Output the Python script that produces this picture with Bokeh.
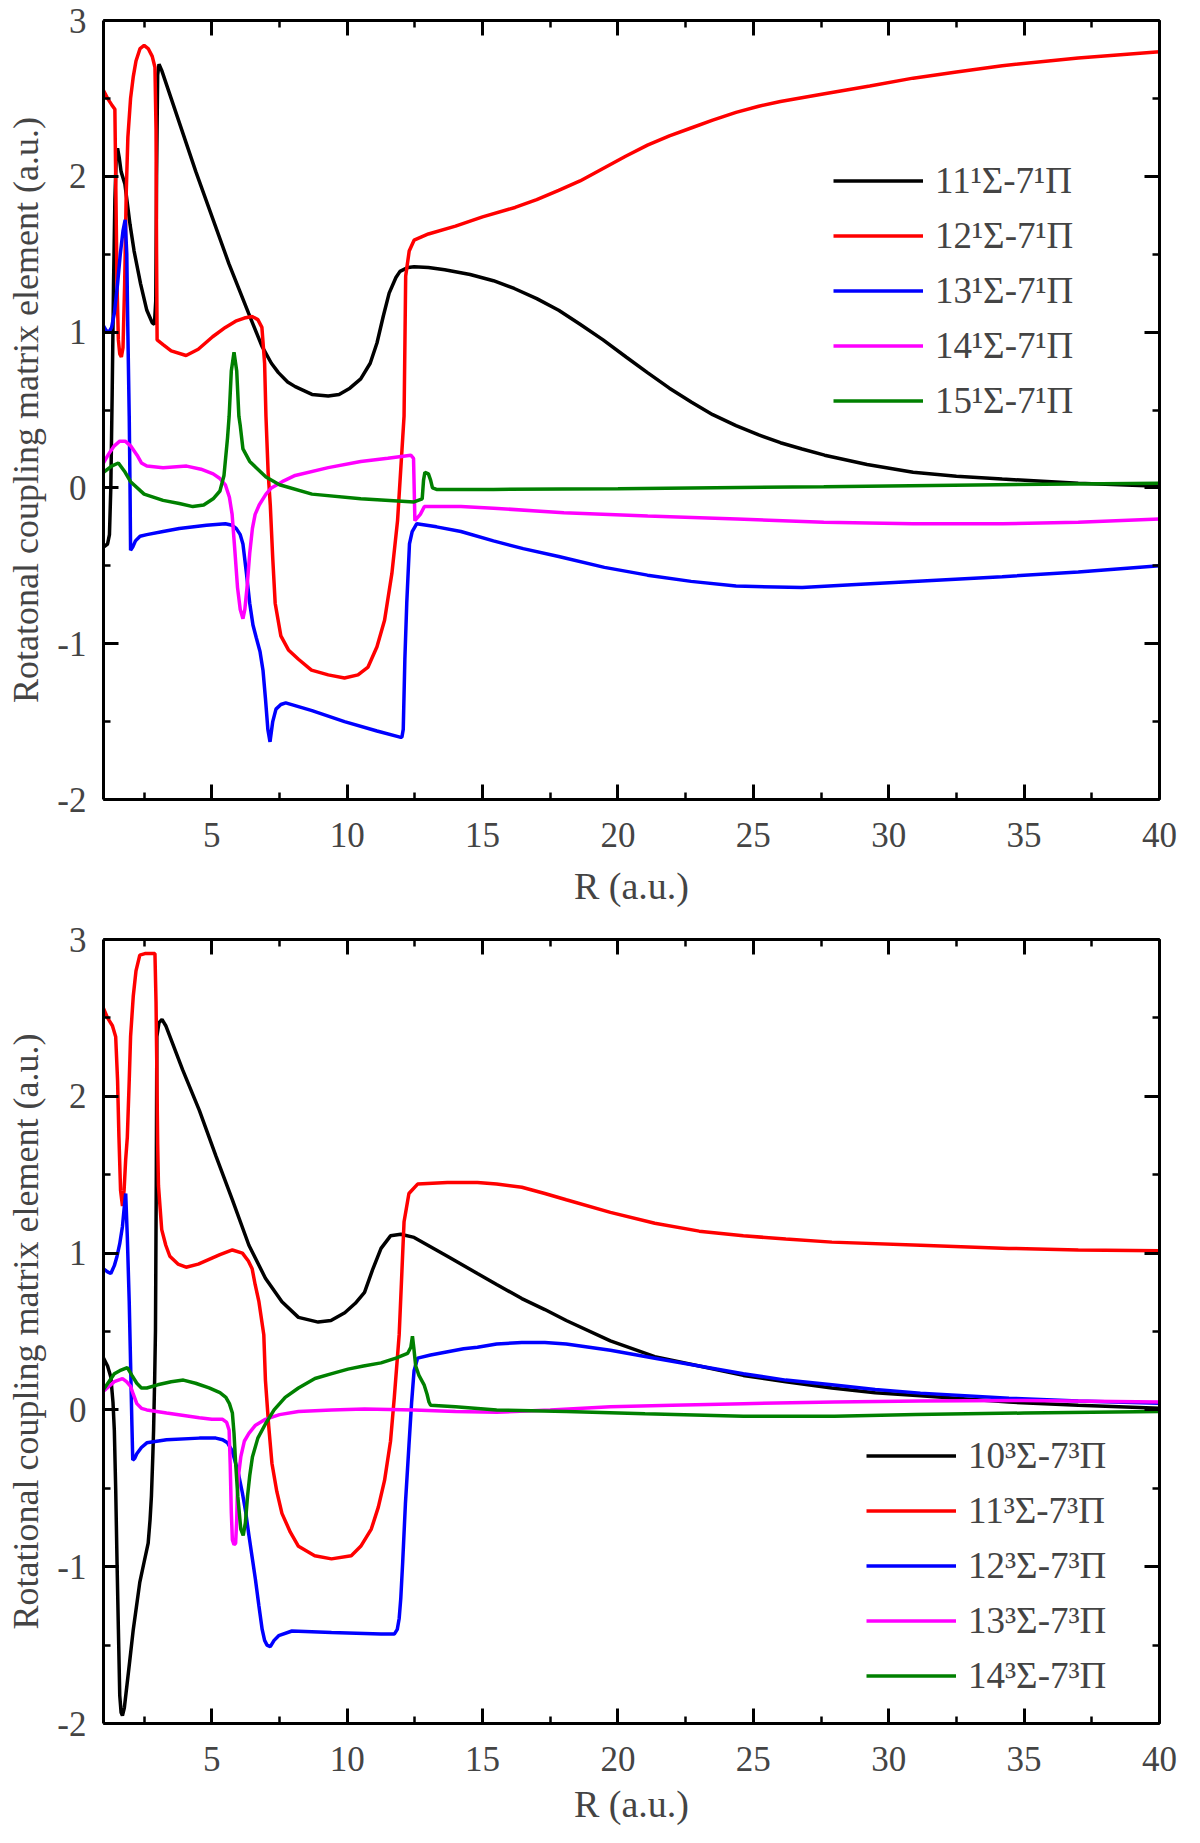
from bokeh.plotting import figure
from bokeh.layouts import column
from bokeh.models import Range1d, LinearAxis, SingleIntervalTicker, CustomJSTickFormatter
from bokeh.embed import file_html
from bokeh.resources import INLINE

FONT = "Liberation Serif"

# ---------------- upper panel: n 1Sigma - 7 1Pi ----------------
singlet_labels = ["11\u00b9\u03a3-7\u00b9\u03a0", "12\u00b9\u03a3-7\u00b9\u03a0", "13\u00b9\u03a3-7\u00b9\u03a0",
                  "14\u00b9\u03a3-7\u00b9\u03a0", "15\u00b9\u03a3-7\u00b9\u03a0"]

s11 = [(1.0, -0.38), (1.15, -0.36), (1.22, -0.3), (1.27, 0.0), (1.32, 0.6), (1.37, 1.3), (1.42, 1.85),
       (1.47, 2.12), (1.52, 2.18), (1.58, 2.12), (1.65, 2.03), (1.79, 1.95), (1.98, 1.69), (2.13, 1.52),
       (2.37, 1.31), (2.6, 1.14), (2.8, 1.06), (2.88, 1.05), (2.93, 1.2), (2.96, 2.0), (3.0, 2.65),
       (3.05, 2.72), (3.15, 2.68), (4.41, 2.03), (5.63, 1.44), (6.36, 1.12), (6.85, 0.91), (7.2, 0.8),
       (7.46, 0.74), (7.8, 0.68), (8.08, 0.65), (8.7, 0.6), (9.3, 0.59), (9.7, 0.6), (10.1, 0.64),
       (10.5, 0.7), (10.85, 0.8), (11.1, 0.93), (11.33, 1.1), (11.55, 1.25), (11.8, 1.35), (11.95, 1.39),
       (12.25, 1.415), (12.47, 1.42), (13.0, 1.415), (13.6, 1.4), (14.54, 1.37), (15.4, 1.33),
       (16.17, 1.28), (17.0, 1.215), (17.81, 1.14), (18.6, 1.05), (19.45, 0.95), (20.3, 0.84),
       (21.09, 0.74), (21.9, 0.64), (22.72, 0.55), (23.5, 0.47), (24.36, 0.4), (25.2, 0.34), (26.0, 0.29),
       (26.8, 0.25), (27.63, 0.21), (29.2, 0.15), (30.9, 0.1), (32.5, 0.075), (34.19, 0.057), (37.0, 0.03),
       (40.0, 0.01)]

s12 = [(1.0, 2.55), (1.15, 2.5), (1.3, 2.46), (1.42, 2.43), (1.45, 2.0), (1.5, 1.3), (1.55, 0.95),
       (1.6, 0.86), (1.66, 0.84), (1.72, 0.9), (1.78, 1.3), (1.84, 1.9), (1.9, 2.25), (2.0, 2.5),
       (2.1, 2.64), (2.2, 2.74), (2.35, 2.82), (2.5, 2.84), (2.65, 2.82), (2.8, 2.77), (2.9, 2.7),
       (2.94, 2.3), (2.96, 1.5), (2.98, 0.95), (3.2, 0.92), (3.5, 0.88), (4.05, 0.85), (4.5, 0.89),
       (5.03, 0.97), (5.5, 1.03), (5.88, 1.07), (6.2, 1.09), (6.49, 1.1), (6.7, 1.08), (6.85, 1.03),
       (6.95, 0.8), (7.0, 0.46), (7.08, 0.1), (7.16, -0.11), (7.25, -0.45), (7.34, -0.74), (7.55, -0.95),
       (7.83, -1.04), (8.2, -1.1), (8.68, -1.17), (9.3, -1.2), (9.9, -1.22), (10.4, -1.2), (10.77, -1.15),
       (11.1, -1.02), (11.38, -0.85), (11.65, -0.55), (11.86, -0.21), (12.05, 0.32), (12.1, 0.46),
       (12.13, 0.9), (12.16, 1.36), (12.29, 1.52), (12.47, 1.59), (13.0, 1.63), (14.0, 1.68), (15.0, 1.74),
       (16.2, 1.8), (17.0, 1.85), (17.81, 1.91), (18.6, 1.97), (19.45, 2.05), (20.3, 2.13), (21.09, 2.2),
       (21.9, 2.26), (22.7, 2.31), (23.5, 2.36), (24.36, 2.41), (25.2, 2.45), (26.0, 2.48), (27.63, 2.53),
       (29.3, 2.58), (30.9, 2.63), (32.5, 2.67), (34.19, 2.71), (37.0, 2.76), (40.0, 2.8)]

s13 = [(1.0, 1.04), (1.1, 1.01), (1.2, 1.0), (1.3, 1.03), (1.4, 1.12), (1.52, 1.31), (1.62, 1.5),
       (1.72, 1.65), (1.8, 1.72), (1.86, 1.5), (1.9, 1.0), (1.95, 0.46), (1.98, 0.0), (2.0, -0.4),
       (2.08, -0.38), (2.18, -0.34), (2.35, -0.31), (2.6, -0.3), (3.2, -0.28), (3.8, -0.26), (4.8, -0.24),
       (5.5, -0.23), (5.75, -0.24), (5.9, -0.26), (6.05, -0.3), (6.15, -0.36), (6.28, -0.55), (6.4, -0.74),
       (6.52, -0.88), (6.64, -0.96), (6.78, -1.05), (6.89, -1.17), (6.98, -1.35), (7.07, -1.55),
       (7.15, -1.63), (7.25, -1.5), (7.37, -1.42), (7.55, -1.39), (7.73, -1.38), (8.7, -1.43), (9.9, -1.5),
       (11.1, -1.56), (11.95, -1.6), (12.02, -1.6), (12.07, -1.55), (12.13, -1.1), (12.2, -0.74),
       (12.3, -0.36), (12.4, -0.28), (12.57, -0.23), (13.3, -0.25), (14.2, -0.28), (15.4, -0.34),
       (16.5, -0.39), (17.81, -0.44), (19.5, -0.51), (21.09, -0.56), (22.7, -0.6), (24.36, -0.63),
       (26.8, -0.64), (28.8, -0.62), (30.9, -0.6), (34.19, -0.57), (37.0, -0.54), (40.0, -0.5)]

s14 = [(1.0, 0.16), (1.2, 0.22), (1.4, 0.27), (1.6, 0.3), (1.8, 0.3), (2.0, 0.27), (2.24, 0.21),
       (2.4, 0.16), (2.6, 0.14), (3.2, 0.13), (4.07, 0.14), (4.6, 0.12), (5.05, 0.09), (5.3, 0.06),
       (5.5, 0.02), (5.65, -0.06), (5.75, -0.17), (5.85, -0.4), (5.95, -0.64), (6.05, -0.78),
       (6.15, -0.84), (6.22, -0.78), (6.3, -0.64), (6.4, -0.42), (6.5, -0.26), (6.6, -0.17), (6.75, -0.11),
       (7.0, -0.04), (7.2, 0.0), (7.6, 0.04), (8.08, 0.08), (9.3, 0.13), (10.5, 0.17), (11.5, 0.19),
       (12.35, 0.21), (12.45, 0.19), (12.5, -0.21), (12.7, -0.17), (12.85, -0.12), (14.2, -0.12),
       (15.4, -0.13), (18.0, -0.16), (21.1, -0.18), (24.4, -0.2), (27.6, -0.22), (30.9, -0.23),
       (34.2, -0.23), (37.0, -0.22), (40.0, -0.2)]

s15 = [(1.0, 0.1), (1.3, 0.14), (1.55, 0.16), (1.8, 0.1), (2.0, 0.04), (2.5, -0.04), (3.2, -0.08),
       (3.8, -0.1), (4.3, -0.12), (4.7, -0.11), (5.05, -0.07), (5.3, -0.02), (5.45, 0.08), (5.58, 0.32),
       (5.64, 0.46), (5.72, 0.75), (5.82, 0.87), (5.92, 0.75), (6.0, 0.46), (6.05, 0.4), (6.15, 0.25),
       (6.4, 0.17), (6.64, 0.13), (7.0, 0.07), (7.5, 0.02), (8.7, -0.04), (10.5, -0.07), (12.47, -0.09),
       (12.77, -0.07), (12.82, 0.05), (12.87, 0.1), (13.0, 0.09), (13.08, 0.05), (13.15, 0.0),
       (13.3, -0.01), (15.4, -0.01), (20.0, -0.005), (27.6, 0.007), (34.0, 0.02), (40.0, 0.03)]

# ---------------- lower panel: n 3Sigma - 7 3Pi ----------------
triplet_labels = ["10\u00b3\u03a3-7\u00b3\u03a0", "11\u00b3\u03a3-7\u00b3\u03a0", "12\u00b3\u03a3-7\u00b3\u03a0",
                  "13\u00b3\u03a3-7\u00b3\u03a0", "14\u00b3\u03a3-7\u00b3\u03a0"]

t10 = [(1.0, 0.33), (1.15, 0.28), (1.27, 0.21), (1.35, 0.05), (1.4, -0.13), (1.45, -0.5), (1.5, -0.97),
       (1.55, -1.4), (1.6, -1.82), (1.65, -1.93), (1.7, -1.95), (1.77, -1.9), (1.85, -1.78), (1.97, -1.6),
       (2.1, -1.4), (2.22, -1.25), (2.34, -1.1), (2.5, -0.97), (2.65, -0.85), (2.72, -0.7), (2.77, -0.55),
       (2.82, -0.3), (2.85, -0.13), (2.89, 0.2), (2.92, 0.51), (2.95, 1.5), (2.97, 2.38), (3.05, 2.47),
       (3.16, 2.49), (3.3, 2.45), (3.92, 2.17), (4.54, 1.91), (5.15, 1.62), (5.76, 1.34), (6.37, 1.05),
       (6.98, 0.84), (7.59, 0.69), (8.2, 0.59), (8.93, 0.56), (9.4, 0.57), (9.91, 0.62), (10.3, 0.68),
       (10.64, 0.75), (10.95, 0.9), (11.25, 1.03), (11.6, 1.11), (11.98, 1.12), (12.47, 1.1), (13.7, 0.98),
       (14.81, 0.87), (15.52, 0.8), (16.45, 0.71), (17.3, 0.64), (18.09, 0.57), (19.72, 0.44),
       (21.36, 0.34), (23.0, 0.28), (24.63, 0.22), (26.2, 0.18), (27.9, 0.14), (29.5, 0.11), (31.17, 0.09),
       (34.44, 0.05), (37.0, 0.03), (40.0, 0.01)]

t11 = [(1.0, 2.56), (1.15, 2.5), (1.33, 2.45), (1.45, 2.38), (1.52, 2.1), (1.57, 1.74), (1.63, 1.4),
       (1.7, 1.3), (1.76, 1.4), (1.82, 1.6), (1.88, 1.74), (1.95, 2.1), (2.0, 2.38), (2.1, 2.64),
       (2.2, 2.8), (2.34, 2.9), (2.53, 2.91), (2.7, 2.91), (2.9, 2.91), (2.94, 2.6), (2.97, 2.17),
       (3.0, 1.7), (3.03, 1.43), (3.15, 1.15), (3.3, 1.05), (3.45, 0.98), (3.75, 0.93), (4.05, 0.91),
       (4.5, 0.93), (4.9, 0.96), (5.3, 0.99), (5.76, 1.02), (6.13, 1.0), (6.35, 0.95), (6.49, 0.9),
       (6.6, 0.8), (6.74, 0.69), (6.92, 0.48), (6.98, 0.19), (7.1, -0.1), (7.22, -0.34), (7.4, -0.52),
       (7.59, -0.66), (7.9, -0.78), (8.2, -0.87), (8.8, -0.93), (9.42, -0.95), (10.15, -0.93),
       (10.5, -0.87), (10.89, -0.76), (11.15, -0.62), (11.38, -0.45), (11.6, -0.2), (11.74, 0.08),
       (11.92, 0.48), (12.0, 0.8), (12.1, 1.2), (12.28, 1.38), (12.6, 1.44), (13.7, 1.45), (14.81, 1.45),
       (15.52, 1.44), (16.45, 1.42), (17.3, 1.38), (18.09, 1.34), (19.72, 1.26), (21.36, 1.19),
       (23.0, 1.14), (24.63, 1.11), (26.2, 1.09), (27.9, 1.07), (31.17, 1.05), (34.44, 1.03), (37.0, 1.02),
       (40.0, 1.015)]

t12 = [(1.0, 0.9), (1.15, 0.88), (1.27, 0.87), (1.4, 0.92), (1.5, 0.98), (1.6, 1.06), (1.7, 1.17),
       (1.77, 1.3), (1.82, 1.38), (1.88, 1.1), (1.95, 0.69), (2.0, 0.3), (2.05, -0.1), (2.08, -0.32),
       (2.15, -0.31), (2.23, -0.28), (2.4, -0.24), (2.6, -0.21), (3.33, -0.19), (4.54, -0.18),
       (5.15, -0.18), (5.4, -0.19), (5.58, -0.21), (5.75, -0.26), (5.88, -0.34), (6.0, -0.42),
       (6.13, -0.53), (6.25, -0.65), (6.37, -0.8), (6.49, -0.94), (6.61, -1.08), (6.74, -1.25),
       (6.86, -1.4), (6.95, -1.47), (7.04, -1.5), (7.16, -1.51), (7.3, -1.47), (7.47, -1.44),
       (7.96, -1.41), (9.42, -1.42), (11.25, -1.43), (11.74, -1.43), (11.85, -1.4), (11.92, -1.33),
       (11.98, -1.2), (12.05, -0.97), (12.15, -0.6), (12.28, -0.23), (12.38, 0.05), (12.47, 0.25),
       (12.6, 0.33), (13.08, 0.35), (14.3, 0.39), (14.81, 0.4), (15.52, 0.42), (16.45, 0.43),
       (17.3, 0.43), (18.09, 0.42), (19.72, 0.38), (21.36, 0.33), (23.0, 0.28), (24.63, 0.23),
       (26.2, 0.19), (27.9, 0.16), (29.5, 0.13), (31.17, 0.107), (34.44, 0.075), (37.0, 0.057),
       (40.0, 0.043)]

t13 = [(1.0, 0.12), (1.2, 0.15), (1.4, 0.18), (1.7, 0.2), (1.85, 0.18), (2.0, 0.15), (2.1, 0.1),
       (2.23, 0.04), (2.4, 0.01), (2.6, 0.0), (3.33, -0.02), (4.54, -0.05), (5.0, -0.06), (5.4, -0.06),
       (5.55, -0.08), (5.64, -0.13), (5.68, -0.35), (5.72, -0.65), (5.76, -0.83), (5.82, -0.86),
       (5.88, -0.85), (5.92, -0.7), (5.94, -0.55), (6.0, -0.4), (6.07, -0.3), (6.2, -0.2), (6.37, -0.15),
       (6.6, -0.1), (6.98, -0.06), (7.5, -0.03), (8.2, -0.01), (9.42, 0.0), (10.64, 0.005), (12.47, 0.0),
       (14.0, -0.01), (15.52, -0.015), (17.5, 0.0), (19.72, 0.02), (22.0, 0.03), (24.63, 0.04),
       (28.0, 0.05), (31.17, 0.057), (35.0, 0.06), (40.0, 0.05)]

t14 = [(1.0, 0.13), (1.2, 0.18), (1.4, 0.23), (1.6, 0.25), (1.88, 0.27), (2.05, 0.22), (2.23, 0.17),
       (2.4, 0.14), (2.6, 0.14), (3.0, 0.16), (3.5, 0.18), (3.95, 0.19), (4.4, 0.17), (4.9, 0.14),
       (5.3, 0.11), (5.52, 0.08), (5.65, 0.04), (5.76, -0.02), (5.82, -0.15), (5.88, -0.34), (5.96, -0.55),
       (6.07, -0.76), (6.16, -0.8), (6.24, -0.72), (6.32, -0.55), (6.4, -0.42), (6.5, -0.3), (6.7, -0.18),
       (6.98, -0.09), (7.3, 0.0), (7.71, 0.08), (8.2, 0.14), (8.81, 0.2), (9.4, 0.23), (10.03, 0.26),
       (10.6, 0.28), (11.25, 0.3), (11.8, 0.33), (12.23, 0.36), (12.35, 0.4), (12.41, 0.47), (12.47, 0.38),
       (12.53, 0.28), (12.65, 0.22), (12.84, 0.16), (12.95, 0.1), (13.02, 0.05), (13.08, 0.03),
       (14.0, 0.02), (15.52, 0.0), (18.09, -0.01), (21.0, -0.025), (24.63, -0.04), (28.0, -0.04),
       (31.0, -0.03), (35.0, -0.02), (40.0, -0.01)]

colors = ["#000000", "#ff0000", "#0000ff", "#ff00ff", "#008000"]


def make_panel(height, borders, ylabel, series, labels, legend_xy, standoffs):
    left, right, top, bottom = borders
    tick_off, label_off = standoffs
    p = figure(width=1184, height=height, x_range=Range1d(1, 40), y_range=Range1d(-2, 3),
               output_backend="svg", toolbar_location=None,
               min_border_left=left, min_border_right=right,
               min_border_top=top, min_border_bottom=bottom,
               x_axis_label="R (a.u.)", y_axis_label=ylabel)
    p.add_layout(LinearAxis(), "above")
    p.add_layout(LinearAxis(), "right")
    p.xaxis.ticker = SingleIntervalTicker(interval=5, num_minor_ticks=2)
    p.yaxis.ticker = SingleIntervalTicker(interval=1, num_minor_ticks=2)
    for ax in p.axis:
        ax.axis_line_width = 3
        ax.major_tick_in = 15
        ax.major_tick_out = 0
        ax.minor_tick_in = 7
        ax.minor_tick_out = 0
        ax.major_tick_line_width = 3
        ax.minor_tick_line_width = 2.5
        ax.major_label_text_font = FONT
        ax.major_label_text_font_size = "35px"
        ax.axis_label_text_font = FONT
        ax.axis_label_text_font_style = "normal"
        # plain hyphen for negative numbers, as in the original
        ax.formatter = CustomJSTickFormatter(code="return tick.toString()")
    p.xaxis.axis_label_text_font_size = "38px"
    p.yaxis.axis_label_text_font_size = "36px"
    # mirrored axes: ticks only, no labels
    for ax in (p.above[0], p.right[0]):
        ax.major_label_text_font_size = "0px"
        ax.major_label_text_color = None
        ax.major_label_standoff = 0
    p.below[0].major_label_standoff = tick_off
    p.below[0].axis_label_standoff = label_off
    p.left[0].major_label_standoff = 17
    p.left[0].axis_label_standoff = 8
    p.grid.grid_line_color = None
    p.outline_line_color = None

    for pts, c, lab in zip(series, colors, labels):
        xs = [a for a, b in pts]
        ys = [b for a, b in pts]
        p.line(xs, ys, line_color=c, line_width=3.5, legend_label=lab)

    lg = p.legend[0]
    lg.location = legend_xy
    lg.border_line_alpha = 0
    lg.background_fill_alpha = 0
    lg.padding = 0
    lg.margin = 0
    lg.spacing = 10
    lg.glyph_width = 90
    lg.glyph_height = 45
    lg.label_height = 45
    lg.label_standoff = 12
    lg.label_text_font = FONT
    lg.label_text_font_size = "37px"
    return p


top = make_panel(909, (103, 18, 20, 110), "Rotatonal coupling matrix element (a.u.)",
                 [s11, s12, s13, s14, s15], singlet_labels, (730, 376), (23, 15))
bottom = make_panel(918, (95, 25, 30, 103), "Rotational coupling matrix element (a.u.)",
                    [t10, t11, t12, t13, t14], triplet_labels, (763, 25), (23, 9))

layout = column(top, bottom)
open("out.html", "w").write(file_html(layout, INLINE))
